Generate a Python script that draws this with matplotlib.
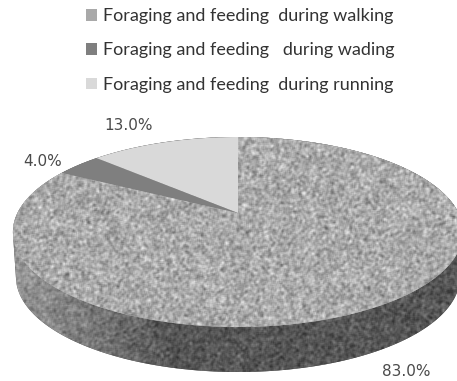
import numpy as np
import matplotlib
matplotlib.use("Agg")
import matplotlib.pyplot as plt
from matplotlib.patches import Polygon, Patch

labels = ["Foraging and feeding  during walking",
          "Foraging and feeding   during wading",
          "Foraging and feeding  during running"]
shares = [83.0, 4.0, 13.0]
pct_labels = ["83.0%", "4.0%", "13.0%"]
flat_colors = ["#a9a9a9", "#7f7f7f", "#d9d9d9"]

W, H = 457, 381
rng = np.random.default_rng(7)


def project(angle):
    # circle seen in perspective, angle runs clockwise from 12 o'clock
    u = np.sin(angle)
    v = np.cos(angle)
    w = 1 + 0.2 * v
    return 238 + 220.5 * u / w, 213 - 91.2 * v / w


def wedge(start, stop):
    t = np.linspace(start, stop, 200)
    x, y = project(t)
    return np.column_stack([np.r_[238, x], np.r_[213, y]])


def mottled():
    # granite look: noise averaged over neighbouring pixels, unit spread
    n = rng.normal(size=(H, W))
    n = sum(np.roll(np.roll(n, i, 0), j, 1)
            for i in range(-1, 2) for j in range(-1, 2)) / 9
    n = n + 0.5 * (np.roll(n, 1, 0) + np.roll(n, 1, 1))
    return n / n.std()


fig = plt.figure(figsize=(W / 100, H / 100), dpi=100)
ax = fig.add_axes([0, 0, 1, 1])

# side wall: outline around the rim and a slightly narrower lower ellipse
phi = np.linspace(0, 2 * np.pi, 720, endpoint=False)
dx, dy = np.cos(phi), np.sin(phi)
pts = []
t = np.linspace(0, 2 * np.pi, 1440, endpoint=False)
top_x, top_y = project(t)
low_x = 238 + 222 * np.cos(t)
low_y = 277 + 95 * np.sin(t)
all_x = np.r_[top_x, low_x]
all_y = np.r_[top_y, low_y]
for a, b in zip(dx, dy):
    k = np.argmax(a * (all_x - 238) + b * (all_y - 250))
    pts.append((all_x[k], all_y[k]))
side = Polygon(pts, closed=True, fc="#585858", ec="none")
ax.add_patch(side)

# wall gets lighter towards the left end
xx = np.arange(W)[None, :]
side_level = 86 + 62 * np.clip((170 - xx) / 150, 0, 1)
side_img = ax.imshow(side_level + 11 * mottled(), cmap="gray", vmin=0, vmax=255,
                     extent=(0, W, H, 0), zorder=1.5, interpolation="bilinear")
side_img.set_clip_path(side)

# top face
edges = np.r_[0, np.cumsum(shares)] / 100 * 2 * np.pi
for i in range(3):
    poly = Polygon(wedge(edges[i], edges[i + 1]), closed=True,
                   fc=flat_colors[i], ec="none", zorder=2)
    ax.add_patch(poly)
    if i == 0:
        img = ax.imshow(170 + 16 * mottled(), cmap="gray", vmin=0, vmax=255,
                        extent=(0, W, H, 0), zorder=2.5, interpolation="bilinear")
        img.set_clip_path(poly)

# value labels
label_pos = [(406, 371), (43, 161), (129, 126)]
for s, (x, y) in zip(pct_labels, label_pos):
    ax.text(x, y, s, fontsize=11, color="#4a4a4a", ha="center", va="center")

# legend
handles = [Patch(fc=c, ec="none") for c in flat_colors]
ax.legend(handles, labels, loc="upper left", bbox_to_anchor=(81 / W, 1 - 3 / H),
          frameon=False, prop={"family": "Lato", "size": 13},
          labelcolor="#333333", handlelength=0.58, handleheight=0.58,
          handletextpad=0.36, labelspacing=1.0, borderpad=0.3, borderaxespad=0)

ax.set_xlim(0, W)
ax.set_ylim(H, 0)
ax.set_aspect("auto")
ax.axis("off")

fig.savefig("out.png", dpi=100)
